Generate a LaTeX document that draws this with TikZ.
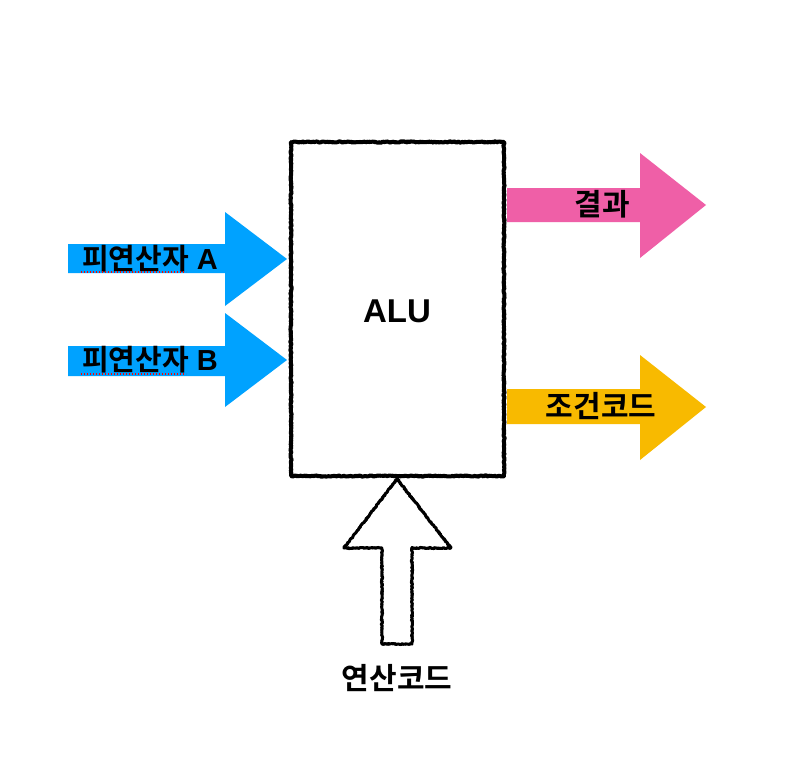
\documentclass[tikz,border=0pt]{standalone}
\usepackage{fontspec}
\setmainfont{Liberation Sans}
\newfontfamily\kr{Noto Sans CJK KR}[BoldFont=* Bold]
\usetikzlibrary{decorations.pathmorphing}
\definecolor{opblue}{RGB}{0,162,255}
\definecolor{respink}{RGB}{239,95,167}
\definecolor{condyel}{RGB}{248,186,0}
\tikzset{
  sketch/.style={draw=black, line width=4pt, line join=round,
    decorate, decoration={random steps, segment length=1.2pt, amplitude=0.6pt}},
  sketchthin/.style={draw=black, line width=1.5pt, line join=round,
    decorate, decoration={random steps, segment length=1pt, amplitude=1.4pt}},
  lbl/.style={font=\bfseries\fontsize{29}{31}\selectfont, inner sep=0pt},
  krlbl/.style={font=\kr\bfseries\fontsize{30}{32}\selectfont, inner sep=0pt},
  squig/.style={draw=red, line width=1.1pt, dash pattern=on 1.2pt off 1.8pt},
}
\begin{document}
\begin{tikzpicture}[x=1pt,y=-1pt]
\useasboundingbox (0,0) rectangle (790,768);
\fill[white] (0,0) rectangle (790,768);
% ALU box
\coordinate (b1) at (291,142);
\coordinate (b2) at (504,476);
\path[sketch] (b1) rectangle (b2);
\path[sketchthin] (b1) rectangle (b2);
\node[font=\bfseries\fontsize{33}{35}\selectfont] (alu) at (397,311) {ALU};
% operand A arrow
\fill[opblue] (68,244) -- (225,244) -- (225,212) -- (287,259) -- (225,306) -- (225,273) -- (68,273) -- cycle;
\node[lbl] (opa) at (150,259) {{\kr 피연산자} A};
\draw[squig] (81,272) -- (186,272);
% operand B arrow
\fill[opblue] (68,346) -- (225,346) -- (225,313) -- (287,360) -- (225,407) -- (225,376) -- (68,376) -- cycle;
\node[lbl] (opb) at (150,360) {{\kr 피연산자} B};
\draw[squig] (81,374) -- (186,374);
% result arrow
\fill[respink] (507,188) -- (640,188) -- (640,153) -- (706,205) -- (640,258) -- (640,222) -- (507,222) -- cycle;
\node[krlbl] (res) at (602,204) {결과};
% condition code arrow
\fill[condyel] (507,389) -- (640,389) -- (640,355) -- (706,407) -- (640,460) -- (640,424) -- (507,424) -- cycle;
\node[krlbl] (cc) at (601,406) {조건코드};
% opcode arrow
\coordinate (tip) at (397,479);
\path[sketch, line width=3pt] (tip) -- (451,548) -- (412,548) -- (412,644) -- (382,644) -- (382,548) -- (344,548) -- cycle;
\path[sketchthin, line width=1pt] (tip) -- (451,548) -- (412,548) -- (412,644) -- (382,644) -- (382,548) -- (344,548) -- cycle;
\node[krlbl] (opc) at (397,678) {연산코드};
\end{tikzpicture}
\end{document}
